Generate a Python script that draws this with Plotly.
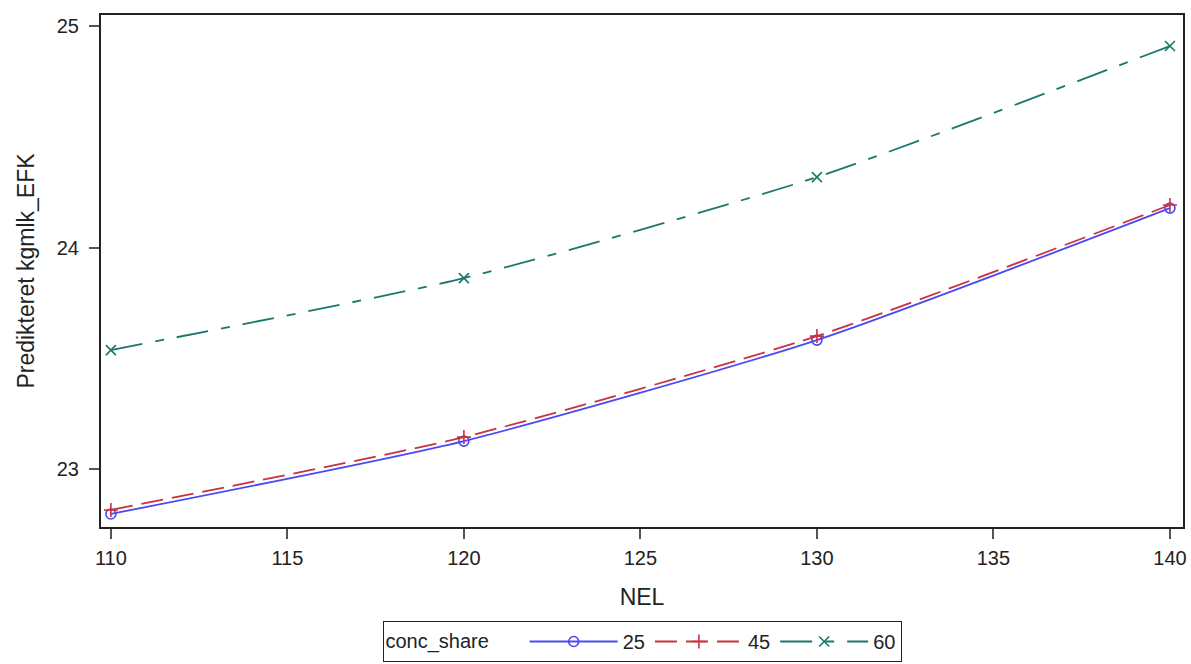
import plotly.graph_objects as go

nel = [110, 120, 130, 140]
s25 = [22.797, 23.126, 23.582, 24.178]
s45 = [22.815, 23.144, 23.600, 24.192]
s60 = [23.537, 23.862, 24.318, 24.910]
labels = ["25", "45", "60"]
colors = ["#4A4AF5", "#C8323E", "#19786B"]
dashes = ["solid", "22px,9px", "32px,13px,9px,13px"]
symbols = ["circle-open", "cross-thin-open", "x-thin-open"]

fig = go.Figure()
for ys, lab, c, d, s in zip([s25, s45, s60], labels, colors, dashes, symbols):
    fig.add_trace(go.Scatter(
        x=nel, y=ys, name=lab, mode="lines+markers",
        line=dict(color=c, width=1.8, dash=d, shape="spline", smoothing=0.6),
        marker=dict(symbol=s, size=10, color=c, line=dict(color=c, width=1.6)),
    ))

font = "Liberation Sans, Arial, sans-serif"
fig.update_layout(
    width=1191, height=664,
    margin=dict(l=101, r=8, t=15, b=137),
    plot_bgcolor="white", paper_bgcolor="white",
    font=dict(family=font, size=20, color="#222"),
    xaxis=dict(
        title=dict(text="NEL", font=dict(size=23), standoff=21),
        range=[109.72, 140.37], tickvals=[110, 115, 120, 125, 130, 135, 140],
        showgrid=False, zeroline=False, showline=True, linecolor="#222", linewidth=2,
        mirror=True, ticks="outside", ticklen=10, tickcolor="#555", tickwidth=2,
        tickfont=dict(size=20), ticklabelstandoff=2, automargin=False,
    ),
    yaxis=dict(
        title=dict(text="Predikteret kgmlk_EFK", font=dict(size=23), standoff=16),
        range=[22.738, 25.05], tickvals=[23, 24, 25],
        showgrid=False, zeroline=False, showline=True, linecolor="#222", linewidth=2,
        mirror=True, ticks="outside", ticklen=10, tickcolor="#555", tickwidth=2,
        tickfont=dict(size=20), ticklabelstandoff=6, automargin=False,
    ),
    legend=dict(
        orientation="h", x=0.5, xanchor="center",
        yref="container", y=0.003, yanchor="bottom",
        title=dict(text="conc_share     ", font=dict(size=20)),
        bordercolor="#222", borderwidth=1, font=dict(size=20),
        itemwidth=88,
    ),
)
fig.write_html("out.html")
